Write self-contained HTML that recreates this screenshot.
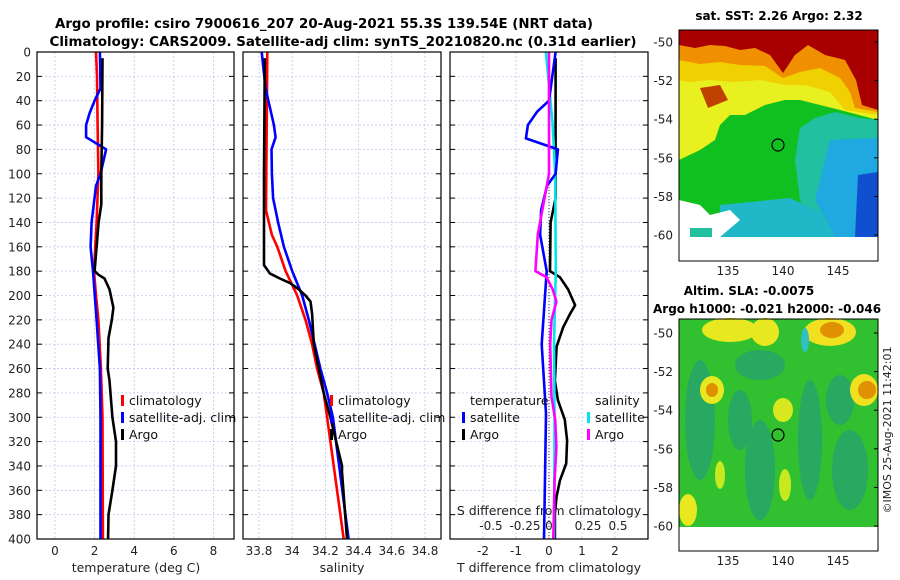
<!DOCTYPE html>
<html><head><meta charset="utf-8"><style>
html,body{margin:0;padding:0;background:#fff;}
svg{display:block;font-family:"DejaVu Sans","Liberation Sans",sans-serif;}
</style></head><body>
<svg id="fig" width="900" height="580" viewBox="0 0 900 580" xmlns="http://www.w3.org/2000/svg">
<text x="324" y="28" font-size="13" font-weight="bold" text-anchor="middle" textLength="538" lengthAdjust="spacingAndGlyphs">Argo profile: csiro 7900616_207 20-Aug-2021 55.3S 139.54E (NRT data)</text>
<text x="343" y="46" font-size="13" font-weight="bold" text-anchor="middle" textLength="587" lengthAdjust="spacingAndGlyphs">Climatology: CARS2009. Satellite-adj clim: synTS_20210820.nc (0.31d earlier)</text>

<!-- Map 1: SST -->
<g>
<rect x="679" y="30" width="199" height="207" fill="#10c020"/>
<polygon points="679,30 878,30 878,120 840,110 820,105 800,100 785,100 765,105 745,115 730,115 720,125 715,140 700,150 679,160" fill="#e8f020"/>
<polygon points="679,30 878,30 878,115 845,110 830,92 805,85 785,85 760,80 735,82 710,80 690,82 679,80" fill="#f0d000"/>
<polygon points="679,30 878,30 878,112 855,108 850,92 840,78 820,68 800,72 783,78 765,66 740,65 720,62 700,64 679,60" fill="#f09000"/>
<polygon points="679,30 878,30 878,110 862,105 856,80 845,60 825,55 808,45 795,55 783,73 770,55 755,48 740,50 725,46 710,45 695,48 679,45" fill="#a80000"/>
<polygon points="700,88 720,85 728,100 708,108" fill="#c04000"/>
<polygon points="800,128 815,118 835,112 860,118 878,120 878,237 820,237 800,200 795,160" fill="#20c0a0"/>
<polygon points="830,140 878,138 878,237 835,237 815,200" fill="#20a8e0"/>
<polygon points="858,175 878,172 878,237 855,237" fill="#1050d0"/>
<polygon points="720,205 790,198 820,212 835,237 720,237" fill="#20b8c8"/>
<polygon points="679,200 700,205 710,215 730,210 740,220 720,237 679,237" fill="#ffffff"/>
<rect x="690" y="228" width="22" height="9" fill="#20c0a0"/>
<rect x="679" y="237" width="199" height="24" fill="#ffffff"/>
<rect x="679" y="30" width="199" height="231" fill="none" stroke="#000" stroke-width="1"/>
<circle cx="778" cy="145" r="6" fill="none" stroke="#000" stroke-width="1.2"/>
<text x="779" y="20" font-size="12" font-weight="bold" text-anchor="middle">sat. SST: 2.26 Argo: 2.32</text>
</g>

<!-- Map 2: SLA -->
<g>
<rect x="679" y="319" width="199" height="208" fill="#30c030"/>
<ellipse cx="700" cy="420" rx="15" ry="60" fill="#28a860"/>
<ellipse cx="760" cy="470" rx="15" ry="50" fill="#28a860"/>
<ellipse cx="810" cy="440" rx="12" ry="60" fill="#28a860"/>
<ellipse cx="850" cy="470" rx="18" ry="40" fill="#28a860"/>
<ellipse cx="760" cy="365" rx="25" ry="15" fill="#28a860"/>
<ellipse cx="740" cy="420" rx="12" ry="30" fill="#28a860"/>
<ellipse cx="840" cy="400" rx="14" ry="25" fill="#28a860"/>
<ellipse cx="730" cy="330" rx="28" ry="12" fill="#e8e820"/>
<ellipse cx="765" cy="332" rx="14" ry="14" fill="#e8e820"/>
<ellipse cx="830" cy="332" rx="26" ry="14" fill="#f0e020"/>
<ellipse cx="832" cy="330" rx="12" ry="8" fill="#e09000"/>
<ellipse cx="712" cy="390" rx="12" ry="14" fill="#e8e820"/>
<ellipse cx="712" cy="390" rx="6" ry="7" fill="#e09000"/>
<ellipse cx="864" cy="390" rx="14" ry="16" fill="#f0e020"/>
<ellipse cx="867" cy="390" rx="9" ry="9" fill="#e09000"/>
<ellipse cx="783" cy="410" rx="10" ry="12" fill="#d8e820"/>
<ellipse cx="720" cy="475" rx="5" ry="14" fill="#c8e820"/>
<ellipse cx="785" cy="485" rx="6" ry="16" fill="#c8e820"/>
<ellipse cx="688" cy="510" rx="9" ry="16" fill="#e8e820"/>
<ellipse cx="805" cy="340" rx="4" ry="12" fill="#30c0c0"/>
<rect x="679" y="527" width="199" height="24" fill="#fff"/>
<rect x="679" y="319" width="199" height="232" fill="none" stroke="#000" stroke-width="1"/>
<circle cx="778" cy="435" r="6" fill="none" stroke="#000" stroke-width="1.2"/>
<text x="749" y="295" font-size="12" font-weight="bold" text-anchor="middle">Altim. SLA: -0.0075</text>
<text x="653" y="313" font-size="12" font-weight="bold">Argo h1000: -0.021 h2000: -0.046</text>
</g>
<text transform="translate(891,430) rotate(-90)" font-size="11" text-anchor="middle" fill="#222">©IMOS 25-Aug-2021 11:42:01</text>
<g id="axes"></g>
</svg>
<script>
// Panel 1: temperature
const tDepthClim = [0,20,60,100,140,180,200,220,260,300,400];
const tClim      = [2.07,2.12,2.15,2.19,2.1,1.97,2.07,2.19,2.32,2.4,2.42];
const tDepthSat  = [0,30,40,50,60,70,80,100,110,140,160,180,220,260,300,400];
const tSat       = [2.27,2.3,2.0,1.75,1.57,1.57,2.58,2.3,2.07,1.85,1.8,1.92,2.1,2.27,2.3,2.3];
const tDepthArgo = [5,60,100,125,140,160,180,183,186,195,210,220,235,260,270,300,320,340,360,380,400];
const tArgo      = [2.4,2.38,2.34,2.34,2.2,2.1,2.0,2.2,2.5,2.75,2.95,2.87,2.7,2.66,2.75,2.9,3.08,3.08,2.9,2.7,2.68];
// Panel 2: salinity
const sDepthClim = [0,130,150,160,180,200,220,240,260,280,300,400];
const sClim      = [33.85,33.842,33.877,33.91,33.96,34.03,34.08,34.12,34.15,34.19,34.21,34.31];
const sDepthSat  = [0,30,60,70,80,100,120,140,160,180,200,220,240,260,280,300,400];
const sSat       = [33.816,33.84,33.89,33.9,33.875,33.878,33.885,33.915,33.95,34.0,34.06,34.1,34.135,34.17,34.21,34.245,34.34];
const sDepthArgo = [5,100,175,182,186,190,195,200,205,215,240,260,280,300,340,345,400];
const sArgo      = [33.835,33.83,33.83,33.866,33.926,33.99,34.04,34.08,34.11,34.12,34.13,34.16,34.19,34.23,34.3,34.3,34.33];
// Panel 3: differences
const dDepthTSat  = [0,40,49,60,71,80,100,110,130,150,180,240,297,350,400];
const dTSat       = [0.2,0.0,-0.36,-0.64,-0.7,0.27,0.2,-0.06,-0.24,-0.27,-0.07,-0.22,-0.09,-0.12,-0.15];
const dDepthTArgo = [5,120,140,180,185,195,208,215,226,242,270,286,302,319,338,352,365,379,400];
const dTArgo      = [0.2,0.2,0.05,0.03,0.33,0.58,0.79,0.64,0.43,0.23,0.18,0.27,0.48,0.55,0.52,0.33,0.23,0.18,0.18];
const dDepthSSat  = [0,60,100,180,240,300,400];
const dSSat       = [-0.025,0.03,0.05,0.055,0.04,0.045,0.04];
const dDepthSArgo = [0,100,150,165,180,185,195,205,220,240,283,302,324,352,400];
const dSArgo      = [0,0,-0.09,-0.1,-0.11,-0.02,0.03,0.06,0.02,0.01,0.02,0.05,0.06,0.045,0.035];
const depthTicks = [0,20,40,60,80,100,120,140,160,180,200,220,240,260,280,300,320,340,360,380,400];
const tTicks = [0,2,4,6,8];
const sTicks = [33.8,34,34.2,34.4,34.6,34.8];
const sTickLabels = ["33.8","34","34.2","34.4","34.6","34.8"];
const dTTicks = [-2,-1,0,1,2];
const dSTicks = [-0.5,-0.25,0,0.25,0.5];
const dSTickLabels = ["-0.5","-0.25","0","0.25","0.5"];

const NS = "http://www.w3.org/2000/svg";
const root = document.getElementById('axes');
const TOP = 52, BOT = 539;
const yD = d => TOP + d * (BOT - TOP) / 400;
const xT = v => 55 + v * 19.8;
const xS = v => 259 + (v - 33.8) * 166;
const xDT = v => 549 + v * 33;
const xDS = v => 549 + v * 124;
function mk(tag, attrs, parent) {
  const e = document.createElementNS(NS, tag);
  for (const k in attrs) e.setAttribute(k, attrs[k]);
  (parent || root).appendChild(e);
  return e;
}
function txt(x, y, s, size, anchor, fill) {
  const t = mk('text', {x: x, y: y, 'font-size': size, 'text-anchor': anchor || 'middle', fill: fill || '#222'});
  t.textContent = s;
  return t;
}
function line(xs, ds, fx, color, name, w) {
  const pts = xs.map((v, i) => fx(v).toFixed(1) + ',' + yD(ds[i]).toFixed(1)).join(' ');
  const p = mk('polyline', {points: pts, fill: 'none', stroke: color, 'stroke-width': w || 2.6, 'stroke-linejoin': 'round'});
  
  
}
const panels = [{x0: 37, x1: 234}, {x0: 243, x1: 441}, {x0: 450, x1: 648}];
panels.forEach((p, pi) => {
  depthTicks.forEach(d => {
    if (d > 0 && d < 400) {
      const g = mk('line', {x1: p.x0, x2: p.x1, y1: yD(d), y2: yD(d), stroke: '#c0c8ec', 'stroke-width': 0.8, 'stroke-dasharray': '2,2'});
      
      
    }
    mk('line', {x1: p.x0, x2: p.x0 + 5, y1: yD(d), y2: yD(d), stroke: '#000', 'stroke-width': 1});
    mk('line', {x1: p.x1 - 5, x2: p.x1, y1: yD(d), y2: yD(d), stroke: '#000', 'stroke-width': 1});
  });
  let xt, fx;
  if (pi === 0) { xt = tTicks; fx = xT; } else if (pi === 1) { xt = sTicks; fx = xS; } else { xt = dTTicks; fx = xDT; }
  xt.forEach(v => {
    const g = mk('line', {x1: fx(v), x2: fx(v), y1: TOP, y2: BOT, stroke: '#c0c8ec', 'stroke-width': 0.8, 'stroke-dasharray': '2,2'});
    
    
  });
});
depthTicks.forEach(d => {
  const t = txt(31, yD(d) + 4.5, String(d), 12, 'end');
  
  
});
tTicks.forEach(v => {
  const t = txt(xT(v), 555, String(v), 12);
  
  
});
sTicks.forEach((v, i) => {
  const t = txt(xS(v), 555, sTickLabels[i], 12);
  
  
});
dTTicks.forEach(v => {
  const t = txt(xDT(v), 555, String(v), 12);
  
  
});
const dsPos = [491, 525, 549, 588, 618];
dSTicks.forEach((v, i) => {
  const t = txt(dsPos[i], 530, dSTickLabels[i], 12);
  
  
});
let tl = txt(136, 572, 'temperature (deg C)', 12.5);


tl = txt(342, 572, 'salinity', 12.5);


tl = txt(549, 572, 'T difference from climatology', 12.5);


tl = txt(549, 515, 'S difference from climatology', 12.5);



const z = mk('line', {x1: 549, x2: 549, y1: TOP, y2: BOT, stroke: '#333', 'stroke-width': 1, 'stroke-dasharray': '1,2'});



line(tClim, tDepthClim, xT, '#ff0000', 'temperature-climatology-line');
line(tSat, tDepthSat, xT, '#0000ff', 'temperature-satellite-line');
line(tArgo, tDepthArgo, xT, '#000000', 'temperature-argo-line');
line(sClim, sDepthClim, xS, '#ff0000', 'salinity-climatology-line');
line(sSat, sDepthSat, xS, '#0000ff', 'salinity-satellite-line');
line(sArgo, sDepthArgo, xS, '#000000', 'salinity-argo-line');
line(dTArgo, dDepthTArgo, xDT, '#000000', 't-diff-argo-line');
line(dSSat, dDepthSSat, xDS, '#00e5ee', 's-diff-satellite-line');
line(dTSat, dDepthTSat, xDT, '#0000ff', 't-diff-satellite-line');
line(dSArgo, dDepthSArgo, xDS, '#ff00ff', 's-diff-argo-line');

function legItem(mx, tx, y, color, label, name) {
  const r = mk('rect', {x: mx, y: y - 10, width: 3, height: 11, fill: color});
  
  
  const t = txt(tx, y, label, 12.5, 'start', '#111');
  
  
}
legItem(121, 129, 405, '#ff0000', 'climatology', 'legend-climatology');
legItem(121, 129, 422, '#0000ff', 'satellite-adj. clim', 'legend-satellite');
legItem(121, 129, 439, '#000000', 'Argo', 'legend-argo');
legItem(330, 338, 405, '#ff0000', 'climatology', 'legend-sal-climatology');
legItem(330, 338, 422, '#0000ff', 'satellite-adj. clim', 'legend-sal-satellite');
legItem(330, 338, 439, '#000000', 'Argo', 'legend-sal-argo');
tl = txt(470, 405, 'temperature', 12.5, 'start', '#111');


tl = txt(595, 405, 'salinity', 12.5, 'start', '#111');


legItem(462, 470, 422, '#0000ff', 'satellite', 'legend-tdiff-satellite');
legItem(462, 470, 439, '#000000', 'Argo', 'legend-tdiff-argo');
legItem(587, 595, 422, '#00e5ee', 'satellite', 'legend-sdiff-satellite');
legItem(587, 595, 439, '#ff00ff', 'Argo', 'legend-sdiff-argo');

panels.forEach(p => {
  const r = mk('rect', {x: p.x0, y: TOP, width: p.x1 - p.x0, height: BOT - TOP, fill: 'none', stroke: '#000', 'stroke-width': 1.2});
  
  
});

const latTicks = [-50,-52,-54,-56,-58,-60];
const lonTicks = [135,140,145];
const lonX = v => 728 + (v - 135) * 11;
[[42, 275], [333, 565]].forEach(([y50, ly]) => {
  latTicks.forEach(l => {
    const y = y50 + (-50 - l) * 19.3;
    const t = txt(673, y + 4.5, String(l), 12, 'end');
    
    
    mk('line', {x1: 874, x2: 878, y1: y, y2: y, stroke: '#000'});
  });
  lonTicks.forEach(v => {
    const t = txt(lonX(v), ly, String(v), 12);
    
    
  });
});
</script>
</body></html>
